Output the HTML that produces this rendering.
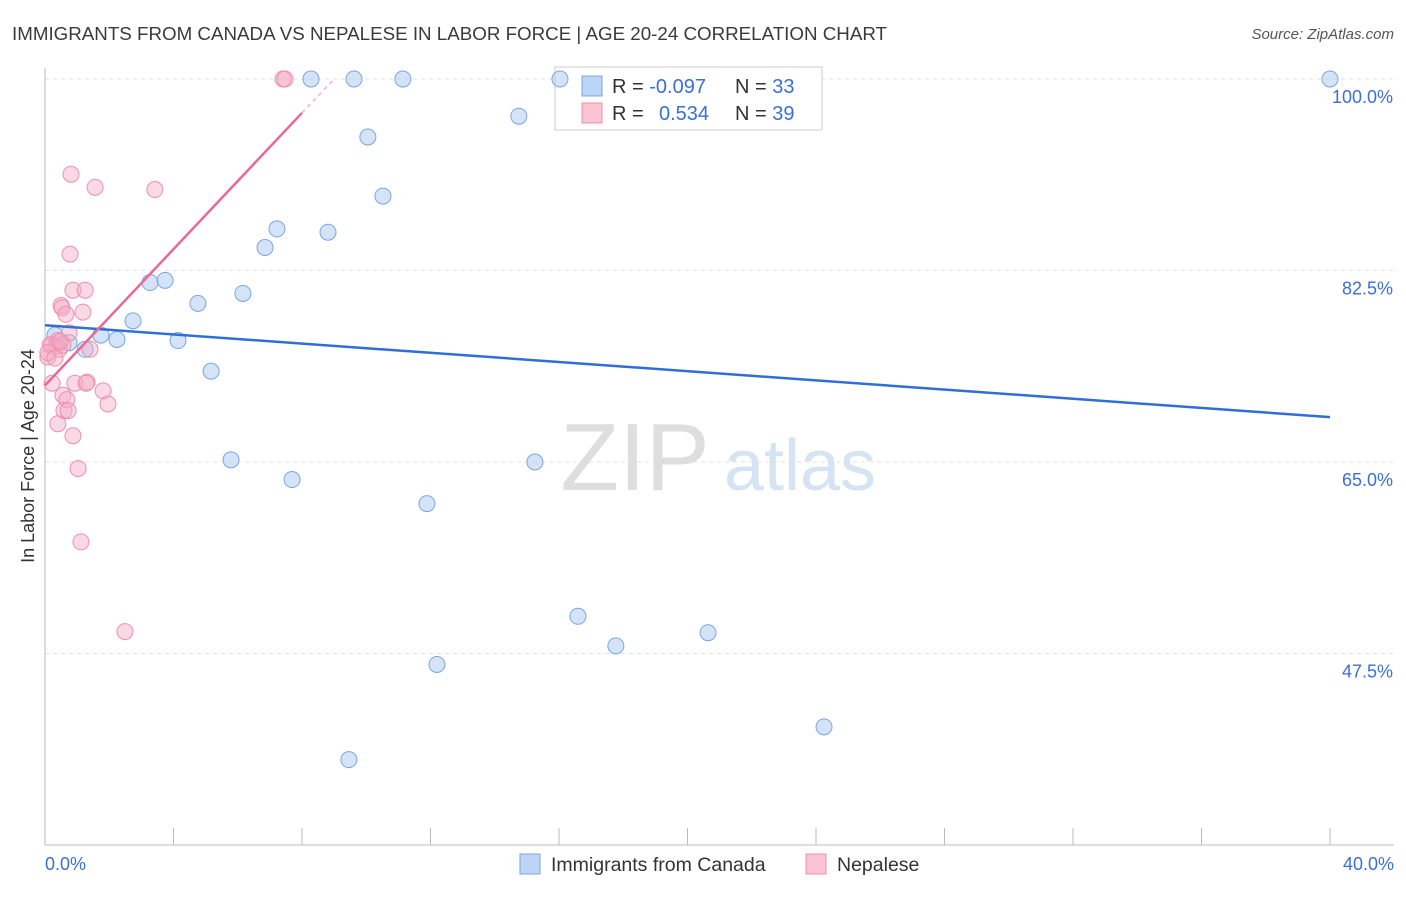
<!DOCTYPE html>
<html><head><meta charset="utf-8">
<style>
body{margin:0;background:#fff;font-family:"Liberation Sans",sans-serif;}
svg text{font-family:"Liberation Sans",sans-serif;}
</style></head>
<body>
<svg id="chart" width="1406" height="892" xmlns="http://www.w3.org/2000/svg">
<text x="12" y="40" font-size="18" fill="#3a3a3a" textLength="875" lengthAdjust="spacingAndGlyphs">IMMIGRANTS FROM CANADA VS NEPALESE IN LABOR FORCE | AGE 20-24 CORRELATION CHART</text>
<text x="1394" y="39" font-size="15" fill="#555" text-anchor="end" font-style="italic">Source: ZipAtlas.com</text>
<g id="grid"></g>
<text x="635" y="490" font-size="96" fill="#dedede" font-family="Liberation Serif" text-anchor="middle">ZIP</text>
<text x="800" y="490" font-size="72" fill="#d5e3f3" text-anchor="middle">atlas</text>
<g>
<rect x="555" y="67" width="267" height="63" fill="#fff" stroke="#ccc"/>
<rect x="582" y="76" width="20" height="20" fill="#bcd4f5" stroke="#7aa6e0"/>
<rect x="582" y="103" width="20" height="20" fill="#f9c4d4" stroke="#ee8fae"/>
<text x="612" y="93" font-size="20" fill="#333">R = <tspan fill="#3a6fd8">-0.097</tspan><tspan x="735">N = </tspan><tspan fill="#3a6fd8">33</tspan></text>
<text x="612" y="120" font-size="20" fill="#333">R = <tspan x="659" fill="#3a6fd8">0.534</tspan><tspan x="735">N = </tspan><tspan fill="#3a6fd8">39</tspan></text>
</g>
<g id="marks"></g>
<text transform="translate(34,456) rotate(-90)" font-size="18" fill="#333" text-anchor="middle">In Labor Force | Age 20-24</text>
<text x="45" y="870" font-size="18" fill="#3a6fd8">0.0%</text>
<text x="1394" y="870" font-size="18" fill="#3a6fd8" text-anchor="end">40.0%</text>
<g>
<rect x="520" y="854" width="20" height="20" fill="#bcd4f5" stroke="#7aa6e0"/>
<text x="551" y="871" font-size="19.5" fill="#333">Immigrants from Canada</text>
<rect x="806" y="854" width="20" height="20" fill="#f9c4d4" stroke="#ee8fae"/>
<text x="837" y="871" font-size="19.5" fill="#333">Nepalese</text>
</g>
</svg>
<script>
const yTicks=[47.5,65.0,82.5,100.0];
const yTickLabels=["47.5%","65.0%","82.5%","100.0%"];
const xTicks=[0,4,8,12,16,20,24,28,32,36,40];
const canadaX=[16.03,8.28,9.62,11.14,40,14.75,10.05,10.52,7.22,8.81,6.85,3.27,3.74,4.76,6.16,2.74,1.74,2.24,4.14,0.75,1.25,0.31,5.17,5.79,7.69,15.25,11.89,16.59,17.77,20.64,12.2,24.25,9.46];
const canadaY=[100,100,100,100,100,96.6,94.7,89.3,86.3,86.0,84.6,81.4,81.6,79.5,80.4,77.9,76.6,76.2,76.1,75.9,75.3,76.6,73.3,65.2,63.4,65.0,61.2,50.9,48.2,49.4,46.5,40.8,37.8];
const nepalX=[7.41,7.47,0.81,1.56,3.42,0.78,0.87,1.25,0.5,0.53,0.65,1.18,0.75,0.4,0.22,0.44,1.4,0.09,0.34,0.22,0.93,1.31,1.28,1.81,0.56,0.68,0.59,0.72,1.96,0.4,0.87,1.03,1.12,2.49,0.16,0.09,0.56,0.31,0.47];
const nepalY=[100,100,91.3,90.1,89.9,84.0,80.7,80.7,79.3,79.1,78.5,78.7,76.8,76.1,75.7,75.3,75.3,74.6,75.6,72.2,72.2,72.3,72.2,71.5,71.1,70.7,69.7,69.7,70.3,68.5,67.4,64.4,57.7,49.5,75.7,75.0,75.7,74.5,76.0];
const canadaTrend=[77.5,69.1];
const nepalTrend=[72.0,96.9,100];
const X=v=>45+v*32.125, Y=v=>79+(100-v)*10.943;
const NS="http://www.w3.org/2000/svg";
function mk(t,a,p){const e=document.createElementNS(NS,t);for(const k in a)e.setAttribute(k,a[k]);p.appendChild(e);return e;}
const grid=document.getElementById('grid'), marks=document.getElementById('marks');
yTicks.forEach((v,i)=>{
 const l=mk('line',{x1:45,x2:1394,y1:Y(v),y2:Y(v),stroke:'#e2e2e2','stroke-dasharray':'4,4'},grid);
 
 
 const t=mk('text',{x:1393,y:Y(v)+24,'font-size':18,fill:'#3a6fd8','text-anchor':'end'},grid);
 t.textContent=yTickLabels[i];
 
 
});
const ax=mk('line',{x1:45,x2:45,y1:68,y2:845,stroke:'#bbb'},grid);


const bx=mk('line',{x1:45,x2:1394,y1:845,y2:845,stroke:'#bbb'},grid);


xTicks.forEach(v=>{
 const t=mk('line',{x1:X(v),x2:X(v),y1:828,y2:845,stroke:'#bbb'},grid);
 
 
});
canadaX.forEach((v,i)=>{
 const c=mk('circle',{cx:X(v),cy:Y(canadaY[i]),r:8,fill:'rgba(169,200,240,0.5)',stroke:'#7aa6e0','stroke-width':1},marks);
 
 
});
nepalX.forEach((v,i)=>{
 const c=mk('circle',{cx:X(v),cy:Y(nepalY[i]),r:8,fill:'rgba(245,170,195,0.45)',stroke:'#ee8fae','stroke-width':1},marks);
 
 
});
const bl=mk('line',{x1:X(0),y1:Y(canadaTrend[0]),x2:X(40),y2:Y(canadaTrend[1]),stroke:'#2f6fd6','stroke-width':2.5},marks);


const pl=mk('line',{x1:X(0),y1:Y(nepalTrend[0]),x2:X(8),y2:Y(nepalTrend[1]),stroke:'#e86a94','stroke-width':2.5},marks);


const pd=mk('line',{x1:X(8),y1:Y(nepalTrend[1]),x2:X(9),y2:Y(nepalTrend[2]),stroke:'#f2b0c6','stroke-width':1.5,'stroke-dasharray':'4,4'},marks);


</script>
</body></html>
